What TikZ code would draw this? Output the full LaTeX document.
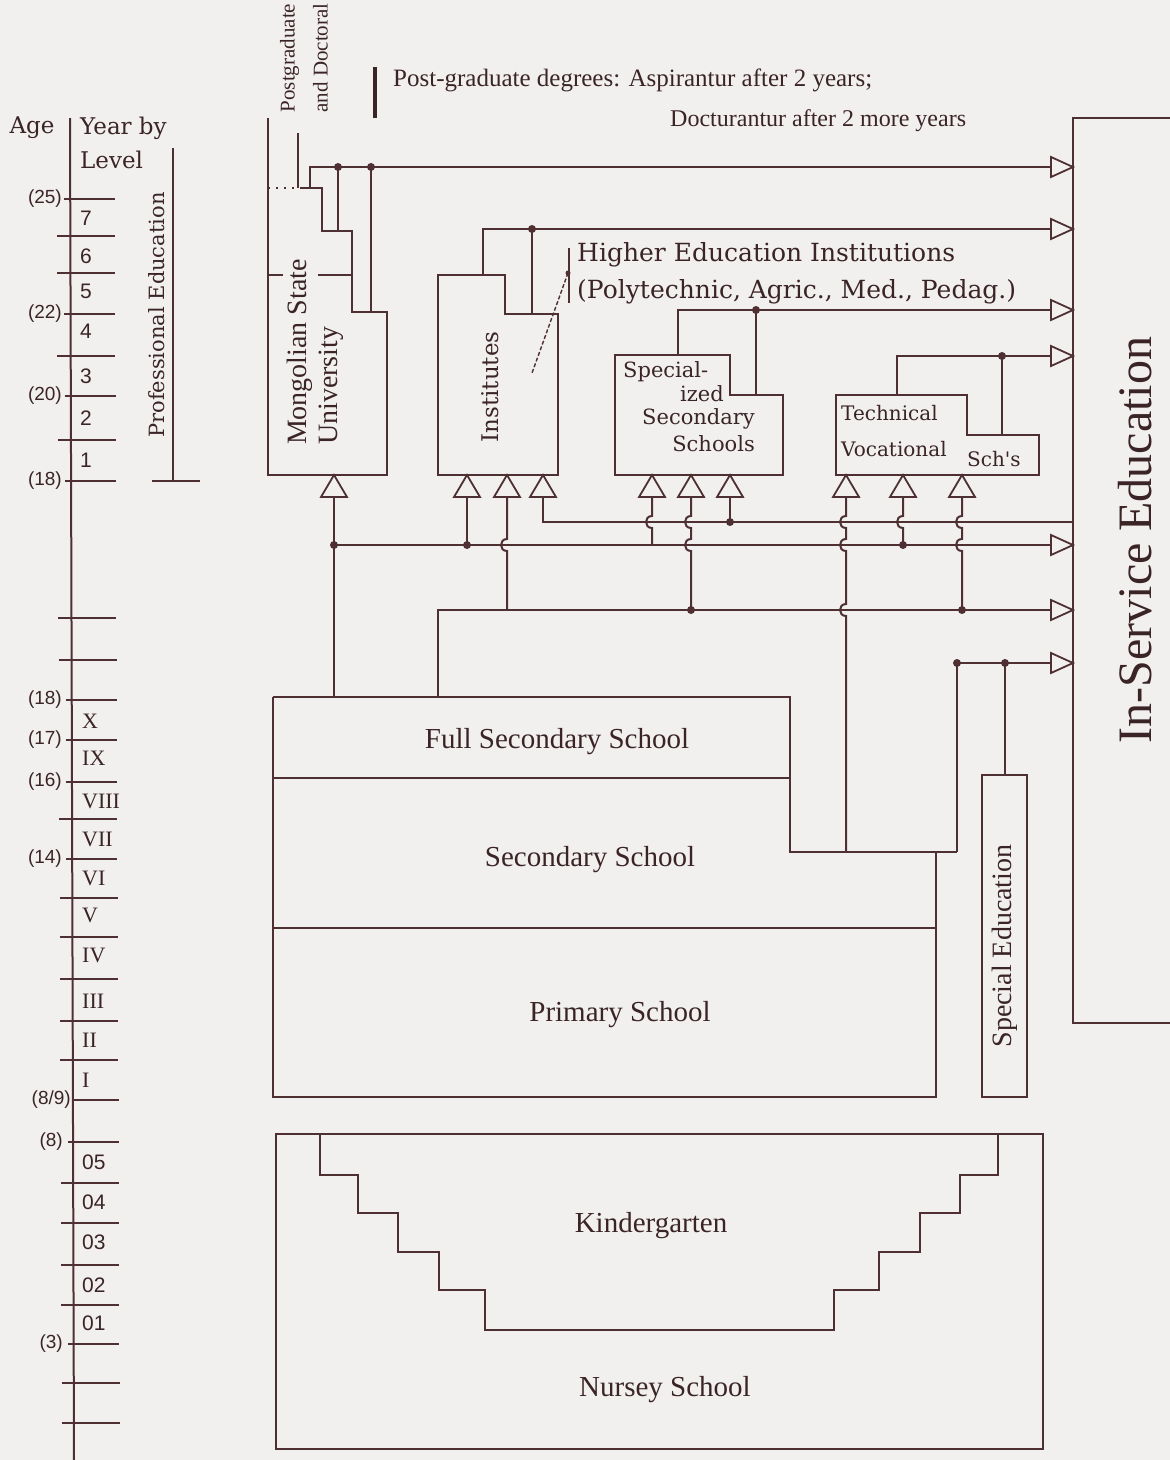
\documentclass[tikz,border=0pt]{standalone}
\usepackage{fontspec}
\setmainfont{Liberation Serif}
\newfontfamily\dvs{DejaVu Serif}
\newfontfamily\lsans{Liberation Sans}
\definecolor{ink}{RGB}{78,48,50}
\definecolor{inkt}{RGB}{58,36,38}
\definecolor{paper}{RGB}{242,240,239}
\tikzset{
 ln/.style={draw=ink, line width=2pt, line join=miter},
 tk/.style={draw=ink, line width=1.8pt},
 tri/.style={draw=ink, line width=1.8pt, fill=paper, line join=miter},
 lbl/.style={text=inkt, inner sep=0pt},
 agel/.style={lbl, anchor=east, font=\lsans\fontsize{19}{19}\selectfont},
 yrl/.style={lbl, anchor=west, font=\lsans\fontsize{21}{21}\selectfont},
 roml/.style={lbl, anchor=west, font=\fontsize{22}{22}\selectfont},
 bigl/.style={lbl, font=\fontsize{29}{29}\selectfont},
 widel/.style={lbl, font=\dvs\fontsize{21}{21}\selectfont},
}
\newcommand{\UpTri}[1]{\path[tri] ({#1-13},497) -- (#1,475) -- ({#1+13},497) -- cycle;}
\newcommand{\RtTri}[1]{\path[tri] (1051,{#1-10}) -- (1073,#1) -- (1051,{#1+10}) -- cycle;}
\newcommand{\Jdot}[2]{\fill[ink] (#1,#2) circle (4pt);}
\begin{document}
\begin{tikzpicture}[x=1pt,y=-1pt]
\fill[paper] (0,0) rectangle (1170,1460);
\useasboundingbox (0,0) rectangle (1170,1460);

% ---------- left scale ----------
\draw[ln] (70,118) -- (74,1460);
\foreach \t in {236,273,356,440,618,660,819,898,937,979,1021,1060,1183,1223,1265,1305,1383,1423}
  \draw[tk] ({56+0.004*\t},\t) -- ({114+0.004*\t},\t);
\foreach \t in {199,314,396,481,700,740,782,859,1142,1344}
  \draw[tk] ({63+0.004*\t},\t) -- ({114+0.004*\t},\t);
\draw[tk] (72,1100) -- (119,1100);

\node[agel] (a25) at (62,199) {(25)};
\node[agel] (a22) at (62,314) {(22)};
\node[agel] (a20) at (62,396) {(20)};
\node[agel] (a18a) at (62,481) {(18)};
\node[agel] (a18b) at (62,700) {(18)};
\node[agel] (a17) at (62,740) {(17)};
\node[agel] (a16) at (62,782) {(16)};
\node[agel] (a14) at (62,859) {(14)};
\node[agel] (a89) at (71,1100) {(8/9)};
\node[agel] (a8) at (63,1142) {(8)};
\node[agel] (a3) at (63,1344) {(3)};

\node[yrl] (y7) at (80,218) {7};
\node[yrl] (y6) at (80,256) {6};
\node[yrl] (y5) at (80,291) {5};
\node[yrl] (y4) at (80,331) {4};
\node[yrl] (y3) at (80,376) {3};
\node[yrl] (y2) at (80,418) {2};
\node[yrl] (y1) at (80,460) {1};
\node[roml] (rX) at (82,721) {X};
\node[roml] (rIX) at (82,758) {IX};
\node[roml] (rVIII) at (82,801) {VIII};
\node[roml] (rVII) at (82,839) {VII};
\node[roml] (rVI) at (82,878) {VI};
\node[roml] (rV) at (82,915) {V};
\node[roml] (rIV) at (82,955) {IV};
\node[roml] (rIII) at (82,1001) {III};
\node[roml] (rII) at (82,1040) {II};
\node[roml] (rI) at (82,1080) {I};
\node[yrl] (k05) at (82,1162) {05};
\node[yrl] (k04) at (82,1202) {04};
\node[yrl] (k03) at (82,1242) {03};
\node[yrl] (k02) at (82,1285) {02};
\node[yrl] (k01) at (82,1323) {01};

\node[widel, font=\dvs\fontsize{23}{23}\selectfont] (age) at (32,128) {Age};
\node[widel, anchor=west, font=\dvs\fontsize{23}{23}\selectfont] (yearby) at (80,128) {Year by};
\node[widel, anchor=west, font=\dvs\fontsize{23}{23}\selectfont] (level) at (80,160) {Level};

\draw[ln] (173,148) -- (173,481);
\draw[ln] (152,481) -- (200,481);
\node[lbl, rotate=90, font=\dvs\fontsize{21}{21}\selectfont] (profed) at (157,315) {Professional Education};

% ---------- postgraduate ----------
\node[lbl, rotate=90, align=center, font=\fontsize{21}{33}\selectfont] (pgd) at (304,58) {Postgraduate\\and Doctoral};
\draw[inkt, line width=4pt] (375,67) -- (375,118);
\node[lbl, anchor=west, font=\fontsize{25}{25}\selectfont] (pg1) at (393,80) {Post-graduate degrees: Aspirantur after 2 years;};
\node[lbl, anchor=west, font=\fontsize{24}{24}\selectfont] (pg2) at (670,121) {Docturantur after 2 more years};

% ---------- Mongolian State University ----------
\draw[ln] (268,118) -- (268,475) -- (387,475) -- (387,312) -- (352,312) -- (352,231) -- (322,231) -- (322,188) -- (300,188);
\draw[ink, line width=2pt, dash pattern=on 2pt off 6pt] (268,188) -- (300,188);
\draw[ln] (298,133) -- (298,188);
\draw[ln] (268,275) -- (283,275);
\draw[ln] (318,275) -- (352,275);
\node[lbl, rotate=90, align=left, font=\fontsize{28}{31}\selectfont] (msu) at (315,352) {Mongolian State\\University};
\draw[ln] (310,188) -- (310,167) -- (1051,167);
\draw[ln] (338,167) -- (338,231);
\draw[ln] (371,167) -- (371,312);
\Jdot{338}{167} \Jdot{371}{167}

% ---------- Institutes ----------
\draw[ln] (438,475) -- (438,275) -- (505,275) -- (505,314) -- (558,314) -- (558,475) -- cycle;
\node[lbl, rotate=90, font=\dvs\fontsize{23}{23}\selectfont] (inst) at (490,387) {Institutes};
\draw[ln] (483,275) -- (483,229) -- (1051,229);
\draw[ln] (532,229) -- (532,314);
\Jdot{532}{229}
\draw[tk] (569,248) -- (569,303);
\draw[ink, line width=1.4pt, dash pattern=on 4pt off 2pt] (568,273) -- (532,373);
\fill[ink] (568,273) circle (2.5pt);
\node[lbl, anchor=west, font=\dvs\fontsize{25}{25}\selectfont] (he1) at (577,255) {Higher Education Institutions};
\node[lbl, anchor=west, font=\dvs\fontsize{25}{25}\selectfont] (he2) at (577,292) {(Polytechnic, Agric., Med., Pedag.)};

% ---------- Specialized ----------
\draw[ln] (615,475) -- (615,355) -- (730,355) -- (730,395) -- (783,395) -- (783,475) -- cycle;
\draw[ln] (678,355) -- (678,310) -- (1051,310);
\draw[ln] (756,310) -- (756,395);
\Jdot{756}{310}
\node[widel, anchor=west] (sp1) at (623,372) {Special-};
\node[widel, anchor=east] (sp2) at (724,394) {ized};
\node[widel, anchor=east] (sp3) at (755,419) {Secondary};
\node[widel, anchor=east] (sp4) at (755,444) {Schools};

% ---------- Technical ----------
\draw[ln] (836,475) -- (836,395) -- (967,395) -- (967,435) -- (1039,435) -- (1039,475) -- cycle;
\draw[ln] (897,395) -- (897,356) -- (1051,356);
\draw[ln] (1002,356) -- (1002,435);
\Jdot{1002}{356}
\node[widel, anchor=west, font=\dvs\fontsize{20}{20}\selectfont] (tv1) at (841,413) {Technical};
\node[widel, anchor=west, font=\dvs\fontsize{20}{20}\selectfont] (tv2) at (841,449) {Vocational};
\node[widel, anchor=west, font=\dvs\fontsize{20}{20}\selectfont] (tv3) at (967,459) {Sch's};

% ---------- In-Service ----------
\draw[ln] (1175,118) -- (1073,118) -- (1073,1023) -- (1175,1023);
\node[lbl, rotate=90, font=\fontsize{48}{48}\selectfont] (ins) at (1135,540) {In-Service Education};

% ---------- buses ----------
\draw[ln] (334,497) -- (334,697);
\draw[ln] (334,545) -- (1051,545);
\draw[ln] (467,497) -- (467,545);
\draw[ln] (543,497) -- (543,522) -- (1073,522);
\draw[ln] (730,497) -- (730,522);
\draw[ln] (438,697) -- (438,610) -- (1051,610);
\draw[ln] (507,497) -- (507,539) .. controls (499,539) and (499,551) .. (507,551) -- (507,610);
\draw[ln] (652,497) -- (652,516) .. controls (644,516) and (644,528) .. (652,528) -- (652,545);
\draw[ln] (691,497) -- (691,516) .. controls (683,516) and (683,528) .. (691,528) -- (691,539) .. controls (683,539) and (683,551) .. (691,551) -- (691,610);
\draw[ln] (846,497) -- (846,516) .. controls (838,516) and (838,528) .. (846,528) -- (846,539) .. controls (838,539) and (838,551) .. (846,551) -- (846,604) .. controls (838,604) and (838,616) .. (846,616) -- (846,852);
\draw[ln] (903,497) -- (903,516) .. controls (895,516) and (895,528) .. (903,528) -- (903,545);
\draw[ln] (962,497) -- (962,516) .. controls (954,516) and (954,528) .. (962,528) -- (962,539) .. controls (954,539) and (954,551) .. (962,551) -- (962,610);
\draw[ln] (957,852) -- (957,663) -- (1051,663);
\draw[ln] (1005,663) -- (1005,775);
\Jdot{334}{545} \Jdot{467}{545} \Jdot{730}{522} \Jdot{691}{610}
\Jdot{903}{545} \Jdot{962}{610} \Jdot{957}{663} \Jdot{1005}{663}

\RtTri{167} \RtTri{229} \RtTri{310} \RtTri{356}
\RtTri{545} \RtTri{610} \RtTri{663}
\foreach \x in {334,467,507,543,652,691,730,846,903,962} {\UpTri{\x}}

% ---------- Special Education ----------
\draw[ln] (982,775) rectangle (1027,1097);
\node[lbl, rotate=90, font=\fontsize{28}{28}\selectfont] (sped) at (1005,946) {Special Education};

% ---------- school blocks ----------
\draw[ln] (273,697) -- (790,697) -- (790,852) -- (957,852);
\draw[ln] (273,697) -- (273,1097) -- (936,1097) -- (936,852);
\draw[ln] (273,778) -- (790,778);
\draw[ln] (273,928) -- (936,928);
\node[bigl] (fss) at (557,742) {Full Secondary School};
\node[bigl] (ss) at (590,860) {Secondary School};
\node[bigl] (ps) at (620,1015) {Primary School};

% ---------- kindergarten / nursery ----------
\draw[ln] (276,1134) rectangle (1043,1449);
\draw[ln] (320,1134) -- (320,1175) -- (358,1175) -- (358,1213) -- (398,1213) -- (398,1252) -- (439,1252) -- (439,1290) -- (485,1290) -- (485,1330) -- (834,1330) -- (834,1290) -- (879,1290) -- (879,1252) -- (920,1252) -- (920,1213) -- (960,1213) -- (960,1175) -- (998,1175) -- (998,1134);
\node[bigl] (kg) at (651,1226) {Kindergarten};
\node[bigl] (ns) at (665,1390) {Nursey School};
\end{tikzpicture}
\end{document}
